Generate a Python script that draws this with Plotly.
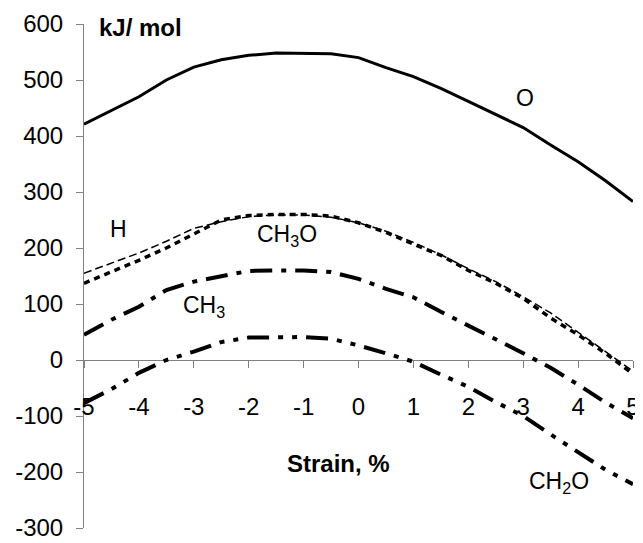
import plotly.graph_objects as go

strain = [-5, -4.5, -4, -3.5, -3, -2.5, -2, -1.5, -1, -0.5, 0, 0.5, 1, 1.5, 2, 2.5, 3, 3.5, 4, 4.5, 5]

O_vals    = [421, 446, 470, 500, 523, 536, 544, 548, 548, 547, 540, 522, 506, 485, 462, 439, 415, 384, 354, 320, 283]
H_vals    = [155, 173, 191, 212, 235, 247, 256, 259, 259, 255, 245, 230, 210, 188, 163, 140, 113, 84, 50, 15, -20]
CH3O_vals = [137, 157, 178, 200, 225, 250, 258, 260, 260, 257, 245, 228, 207, 187, 160, 137, 110, 75, 45, 12, -25]
CH3_vals  = [45, 72, 95, 125, 140, 150, 159, 160, 160, 157, 145, 127, 112, 86, 62, 37, 12, -14, -44, -76, -104]
CH2O_vals = [-77, -52, -23, 0, 15, 32, 40, 41, 41, 38, 26, 12, -3, -26, -48, -75, -100, -133, -164, -196, -222]

x_ticks = [-5, -4, -3, -2, -1, 0, 1, 2, 3, 4, 5]
x_ticktext = ["-5", "-4", "-3", "-2", "-1", "0", "1", "2", "3", "4", "5"]
y_ticks = [-300, -200, -100, 0, 100, 200, 300, 400, 500, 600]
y_ticktext = ["-300", "-200", "-100", "0", "100", "200", "300", "400", "500", "600"]

FONT = "Liberation Sans, Arial, sans-serif"

fig = go.Figure()
series = [
    ("O", O_vals, dict(color="black", width=3, dash="solid")),
    ("H", H_vals, dict(color="black", width=1.5, dash="8px,4px")),
    ("CH3O", CH3O_vals, dict(color="black", width=3.5, dash="6px,5px")),
    ("CH3", CH3_vals, dict(color="black", width=4, dash="22px,9px,5px,9px")),
    ("CH2O", CH2O_vals, dict(color="black", width=4, dash="22px,9px,5px,9px,5px,9px")),
]
for name, vals, line in series:
    fig.add_trace(go.Scatter(x=strain, y=vals, mode="lines", name=name, line=line,
                             showlegend=False, cliponaxis=False))

labels = [
    ("O", 3.03, 468),
    ("H", -4.38, 234),
    ("CH<sub>3</sub>O", -1.31, 222),
    ("CH<sub>3</sub>", -2.81, 95),
    ("CH<sub>2</sub>O", 3.65, -218),
]
for txt, lx, ly in labels:
    fig.add_annotation(x=lx, y=ly, xref="x", yref="y", text=txt, showarrow=False,
                       font=dict(family=FONT, size=23, color="black"))

fig.add_annotation(x=-4.76, y=593, xref="x", yref="y", text="<b>kJ/ mol</b>", showarrow=False,
                   xanchor="left", font=dict(family=FONT, size=24, color="black"))
fig.add_annotation(x=-0.36, y=-184, xref="x", yref="y", text="<b>Strain, %</b>", showarrow=False,
                   font=dict(family=FONT, size=24, color="black"))

fig.update_layout(
    width=635, height=535,
    margin=dict(l=76, r=10, t=16, b=15),
    paper_bgcolor="white", plot_bgcolor="white",
    font=dict(family=FONT, size=24, color="black"),
    xaxis=dict(range=[-5, 5], tickvals=x_ticks, ticktext=x_ticktext, automargin=False,
               showgrid=False, zeroline=False, showline=True, linecolor="#808080", linewidth=1,
               ticks="outside", ticklen=7, tickcolor="#808080",
               anchor="free", position=1/3, ticklabelstandoff=18,
               layer="below traces", tickfont=dict(family=FONT, size=24, color="black")),
    yaxis=dict(range=[-300, 600], tickvals=y_ticks, ticktext=y_ticktext, automargin=False,
               showgrid=False, zeroline=False, showline=True, linecolor="#808080", linewidth=1,
               ticks="outside", ticklen=7, tickcolor="#808080", ticklabelstandoff=8,
               layer="below traces", tickfont=dict(family=FONT, size=24, color="black")),
)

fig.write_html("out.html")
